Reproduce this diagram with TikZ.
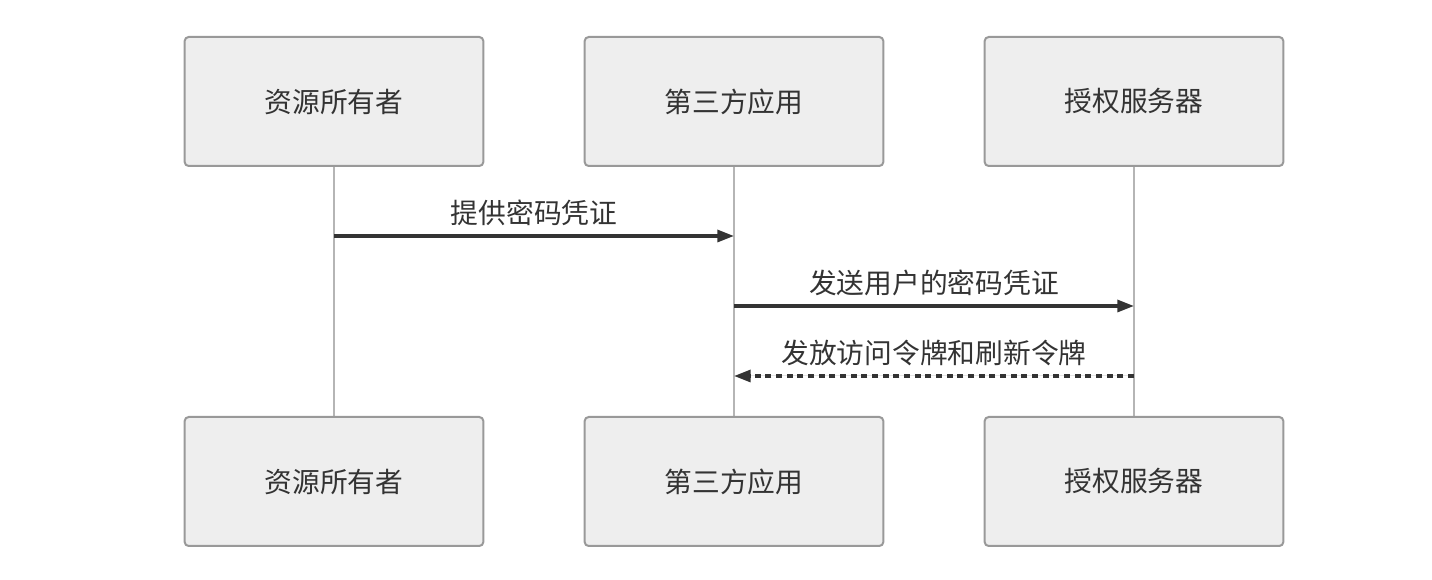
\documentclass[tikz,border=0pt]{standalone}
\usepackage{fontspec}
\newfontfamily\cjk{Noto Sans CJK SC}
\usetikzlibrary{arrows.meta}
\definecolor{boxfill}{HTML}{EEEEEE}
\definecolor{boxline}{HTML}{999999}
\definecolor{lifeline}{HTML}{B5B5B5}
\definecolor{ink}{HTML}{333333}
\begin{document}
\begin{tikzpicture}[x=0.75pt,y=-0.75pt,
  actor/.style={draw=boxline,line width=1.5pt,fill=boxfill,rounded corners=3pt,
    minimum width=224pt,minimum height=96.75pt,inner sep=0pt,
    font=\cjk\fontsize{20.8pt}{25pt}\selectfont,text=ink},
  life/.style={draw=lifeline,line width=1.1pt},
  msg/.style={draw=ink,fill=ink,line width=2.4pt,-{Triangle[length=12.5pt,width=9pt]}},
  lbl/.style={font=\cjk\fontsize{20.8pt}{25pt}\selectfont,text=ink}]
\useasboundingbox (0,0) rectangle (1432,580);
% lifelines first
\coordinate (l1t) at (334,166); \coordinate (l1b) at (334,417);
\coordinate (l2t) at (734,166); \coordinate (l2b) at (734,417);
\coordinate (l3t) at (1134,166); \coordinate (l3b) at (1134,417);
\draw[life] (l1t) -- (l1b);
\draw[life] (l2t) -- (l2b);
\draw[life] (l3t) -- (l3b);
\node[actor] (a1) at (334,101.5) {资源所有者};
\node[actor] (a2) at (734,101.5) {第三方应用};
\node[actor] (a3) at (1134,101.5) {授权服务器};
\node[actor] (b1) at (334,481.5) {资源所有者};
\node[actor] (b2) at (734,481.5) {第三方应用};
\node[actor] (b3) at (1134,481.5) {授权服务器};
% messages
\coordinate (m1s) at (334,236); \coordinate (m1e) at (734,236);
\coordinate (m2s) at (734,306); \coordinate (m2e) at (1134,306);
\coordinate (m3s) at (1134,376); \coordinate (m3e) at (734,376);
\draw[msg] (m1s) -- (m1e);
\draw[msg] (m2s) -- (m2e);
\draw[msg,dash pattern=on 4.5pt off 3.5pt] (m3s) -- (m3e);
\node[lbl] (t1) at (534,212.5) {提供密码凭证};
\node[lbl] (t2) at (934,282.5) {发送用户的密码凭证};
\node[lbl] (t3) at (934,352.5) {发放访问令牌和刷新令牌};
\end{tikzpicture}
\end{document}
